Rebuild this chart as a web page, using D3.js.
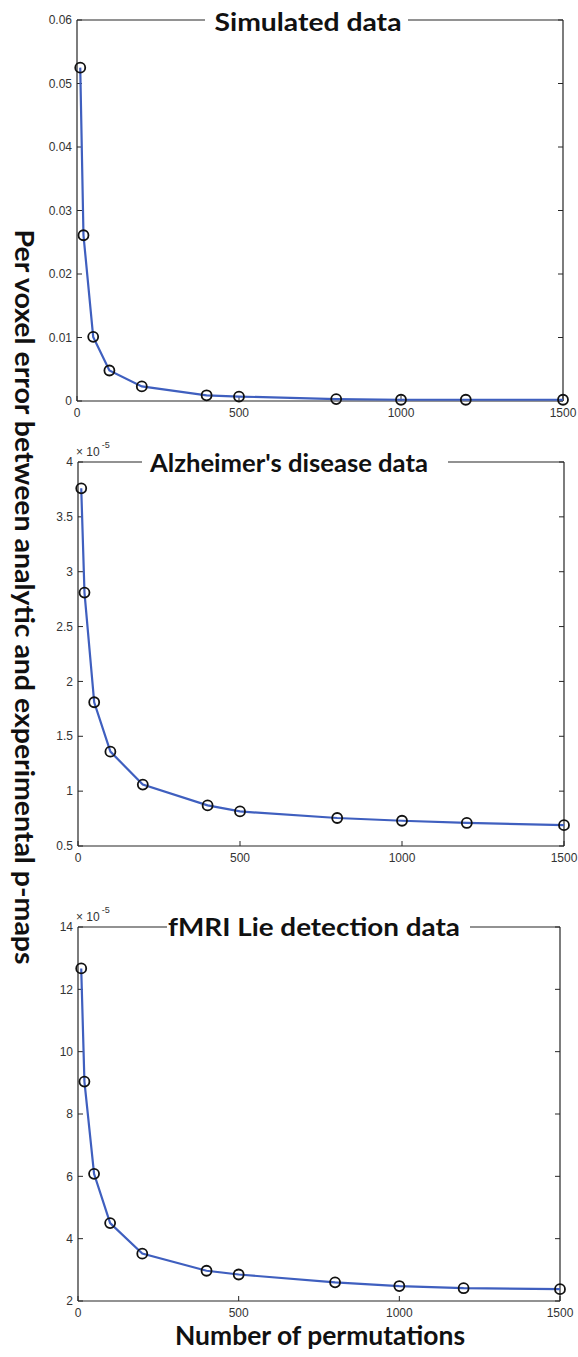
<!DOCTYPE html>
<html lang="en">
<head>
<meta charset="utf-8">
<script src="https://d3js.org/d3.v7.min.js"></script>
<style type="text/css">
body {
	margin: 0;
	background: #fff;
}
.tick-label {
	font: 12px "Liberation Sans", Arial, sans-serif;
	fill: #333;
}
.title, .axis-title {
	font-family: Lato, "Open Sans", sans-serif;
	font-weight: 700;
	fill: #111;
}
</style>
</head>
<body>
<script type="text/javascript">

// number of permutations (x values, shared by the three panels)
var permutations = [10, 20, 50, 100, 200, 400, 500, 800, 1000, 1200, 1500];

// per voxel error, simulated data
var simulatedErr = [0.0525, 0.0261, 0.0101, 0.0048, 0.0023, 0.0009, 0.0007, 0.0003, 0.0002, 0.0002, 0.0002];

// per voxel error, Alzheimer's disease data (x 10^-5)
var alzheimerErr = [3.76, 2.81, 1.81, 1.36, 1.06, 0.87, 0.815, 0.755, 0.73, 0.71, 0.69];

// per voxel error, fMRI lie detection data (x 10^-5)
var fmriErr = [12.67, 9.04, 6.08, 4.50, 3.52, 2.97, 2.85, 2.60, 2.48, 2.41, 2.38];

var xTicks = [0, 500, 1000, 1500];
var simTicks = [0, 0.01, 0.02, 0.03, 0.04, 0.05, 0.06];
var alzTicks = [0.5, 1, 1.5, 2, 2.5, 3, 3.5, 4];
var fmriTicks = [2, 4, 6, 8, 10, 12, 14];

var titles = ["Simulated data", "Alzheimer's disease data", "fMRI Lie detection data"];

var width = 578;
var height = 1357;

var svg = d3.select("body")
	.append("svg")
	.attr("width", width)
	.attr("height", height);

// layout of each panel (pixels)
var panels = [
	{ values: simulatedErr, ticks: simTicks, fmt: function(d) { return d === 0 ? "0" : d3.format(".2f")(d); },
	  box: { l: 77, r: 563, t: 20, b: 401 }, exp: false,
	  title: { cx: 308, y: 31, w: 187, size: 25 }, gap: [205, 408] },
	{ values: alzheimerErr, ticks: alzTicks, fmt: d3.format("~g"),
	  box: { l: 78, r: 564, t: 462, b: 846 }, exp: true,
	  title: { cx: 289, y: 472, w: 278, size: 25 }, gap: [142, 448] },
	{ values: fmriErr, ticks: fmriTicks, fmt: d3.format("~g"),
	  box: { l: 78, r: 560, t: 927, b: 1301 }, exp: true,
	  title: { cx: 314, y: 936, w: 292, size: 25 }, gap: [167, 470] }
];

var lineColor = "#3f5fbf";
var axisColor = "#262626";
var tickLen = 5;

panels.forEach(function(p, k) {
	var b = p.box;
	var ticks = p.ticks;

	var x = d3.scaleLinear()
		.domain([0, 1500])
		.range([b.l, b.r]);

	var y = d3.scaleLinear()
		.domain([ticks[0], ticks[ticks.length - 1]])
		.range([b.b, b.t]);

	var g = svg.append("g");

	// frame: left, bottom, right, and top split around the title
	var frame = [
		[b.l, b.t, b.l, b.b],
		[b.l, b.b, b.r, b.b],
		[b.r, b.t, b.r, b.b],
		[b.l, b.t, p.gap[0], b.t],
		[p.gap[1], b.t, b.r, b.t]
	];
	g.selectAll(".frame")
		.data(frame)
		.enter()
		.append("line")
		.attr("x1", function(d) { return d[0]; })
		.attr("y1", function(d) { return d[1]; })
		.attr("x2", function(d) { return d[2]; })
		.attr("y2", function(d) { return d[3]; })
		.attr("stroke", axisColor)
		.attr("stroke-width", 1.2);

	// y ticks (inside, both sides)
	ticks.forEach(function(t) {
		g.append("line")
			.attr("x1", b.l).attr("x2", b.l + tickLen)
			.attr("y1", y(t)).attr("y2", y(t))
			.attr("stroke", axisColor);
		g.append("line")
			.attr("x1", b.r).attr("x2", b.r - tickLen)
			.attr("y1", y(t)).attr("y2", y(t))
			.attr("stroke", axisColor);
		g.append("text")
			.attr("class", "tick-label")
			.attr("x", b.l - 5)
			.attr("y", y(t))
			.attr("dy", "0.35em")
			.attr("text-anchor", "end")
			.text(p.fmt(t));
	});

	// x ticks
	xTicks.forEach(function(t) {
		g.append("line")
			.attr("x1", x(t)).attr("x2", x(t))
			.attr("y1", b.b).attr("y2", b.b - tickLen)
			.attr("stroke", axisColor);
		g.append("text")
			.attr("class", "tick-label")
			.attr("x", x(t))
			.attr("y", b.b + 16)
			.attr("text-anchor", "middle")
			.text(t);
	});

	// exponent label
	if (p.exp) {
		var e = g.append("text")
			.attr("class", "tick-label")
			.attr("x", b.l - 2)
			.attr("y", b.t - 6);
		e.append("tspan").text("\u00d7 10");
		e.append("tspan")
			.attr("dy", -8)
			.attr("dx", 2)
			.style("font-size", "9px")
			.text("-5");
	}

	// title
	g.append("text")
		.attr("class", "title")
		.attr("x", p.title.cx)
		.attr("y", p.title.y)
		.attr("text-anchor", "middle")
		.attr("textLength", p.title.w)
		.attr("lengthAdjust", "spacingAndGlyphs")
		.style("font-size", p.title.size + "px")
		.text(titles[k]);

	// data line
	var pts = permutations.map(function(v, i) { return [v, p.values[i]]; });

	var line = d3.line()
		.x(function(d) { return x(d[0]); })
		.y(function(d) { return y(d[1]); });

	g.append("path")
		.datum(pts)
		.attr("d", line)
		.attr("fill", "none")
		.attr("stroke", lineColor)
		.attr("stroke-width", 2.2);

	g.selectAll(".marker")
		.data(pts)
		.enter()
		.append("circle")
		.attr("cx", function(d) { return x(d[0]); })
		.attr("cy", function(d) { return y(d[1]); })
		.attr("r", 5)
		.attr("fill", "none")
		.attr("stroke", "#111")
		.attr("stroke-width", 1.8);
});

// shared axis titles
svg.append("text")
	.attr("class", "axis-title")
	.attr("transform", "translate(15,597) rotate(90)")
	.attr("text-anchor", "middle")
	.attr("textLength", 735)
	.attr("lengthAdjust", "spacingAndGlyphs")
	.style("font-size", "27px")
	.text("Per voxel error between analytic and experimental p-maps");

svg.append("text")
	.attr("class", "axis-title")
	.attr("x", 320)
	.attr("y", 1345)
	.attr("text-anchor", "middle")
	.attr("textLength", 290)
	.attr("lengthAdjust", "spacingAndGlyphs")
	.style("font-size", "26px")
	.text("Number of permutations");

</script>
</body>
</html>
